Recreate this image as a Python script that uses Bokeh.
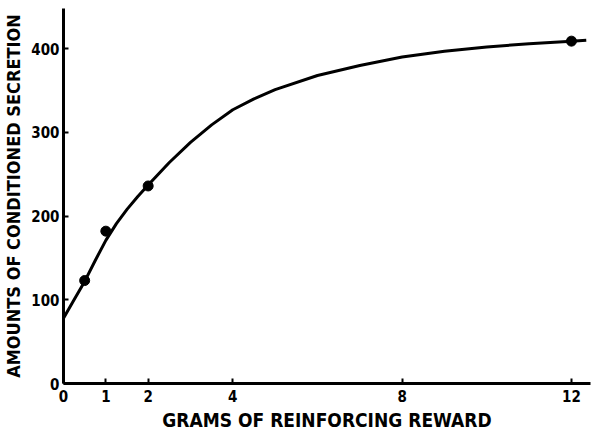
from bokeh.plotting import figure
from bokeh.models import Range1d, FixedTicker
from bokeh.embed import file_html
from bokeh.resources import INLINE

# Data
point_grams = [0.5, 1, 2, 12]
point_secretion = [123, 182, 236, 409]

curve_grams = [0, 0.25, 0.5, 0.75, 1, 1.25, 1.5, 1.75, 2, 2.5, 3, 3.5, 4, 4.5, 5,
               6, 7, 8, 9, 10, 11, 12, 12.35]
curve_secretion = [78, 100, 122, 147, 171, 191, 208, 223, 237, 264, 288, 309, 327, 340, 351,
                   368, 380, 390, 397, 402, 406, 409, 410]

x_ticks = [0, 1, 2, 4, 8, 12]
y_ticks = [0, 100, 200, 300, 400]

FONT = "Liberation Sans Narrow, DejaVu Sans Condensed, Liberation Sans, sans-serif"

p = figure(width=593, height=433, output_backend="svg", toolbar_location=None,
           x_range=Range1d(0, 12.45), y_range=Range1d(0, 448),
           min_border_left=63, min_border_right=3, min_border_top=8, min_border_bottom=50)

p.outline_line_color = None
p.xgrid.visible = False
p.ygrid.visible = False
p.background_fill_color = "white"
p.border_fill_color = "white"

p.line(curve_grams, curve_secretion, line_color="black", line_width=3, line_join="round")
p.scatter(point_grams, point_secretion, size=10, fill_color="black", line_color="black")

for ax in (p.xaxis[0], p.yaxis[0]):
    ax.axis_line_width = 3
    ax.axis_line_color = "black"
    ax.major_tick_in = 5
    ax.major_tick_out = 0
    ax.major_tick_line_width = 2
    ax.minor_tick_line_color = None
    ax.major_label_text_font = FONT
    ax.major_label_text_font_style = "bold"
    ax.major_label_text_font_size = "15px"
    ax.major_label_text_color = "black"
    ax.axis_label_text_font = FONT
    ax.axis_label_text_font_style = "bold"
    ax.axis_label_text_color = "black"

p.xaxis.axis_label_text_font_size = "19px"
p.yaxis.axis_label_text_font_size = "18px"
p.xaxis.ticker = FixedTicker(ticks=x_ticks)
p.yaxis.ticker = FixedTicker(ticks=y_ticks)
p.xaxis.axis_label = "GRAMS OF REINFORCING REWARD"
p.yaxis.axis_label = "AMOUNTS OF CONDITIONED SECRETION"
p.xaxis.major_label_standoff = 6
p.yaxis.major_label_standoff = 4
p.xaxis.axis_label_standoff = 4
p.yaxis.axis_label_standoff = 4

open("out.html", "w").write(file_html(p, INLINE))
